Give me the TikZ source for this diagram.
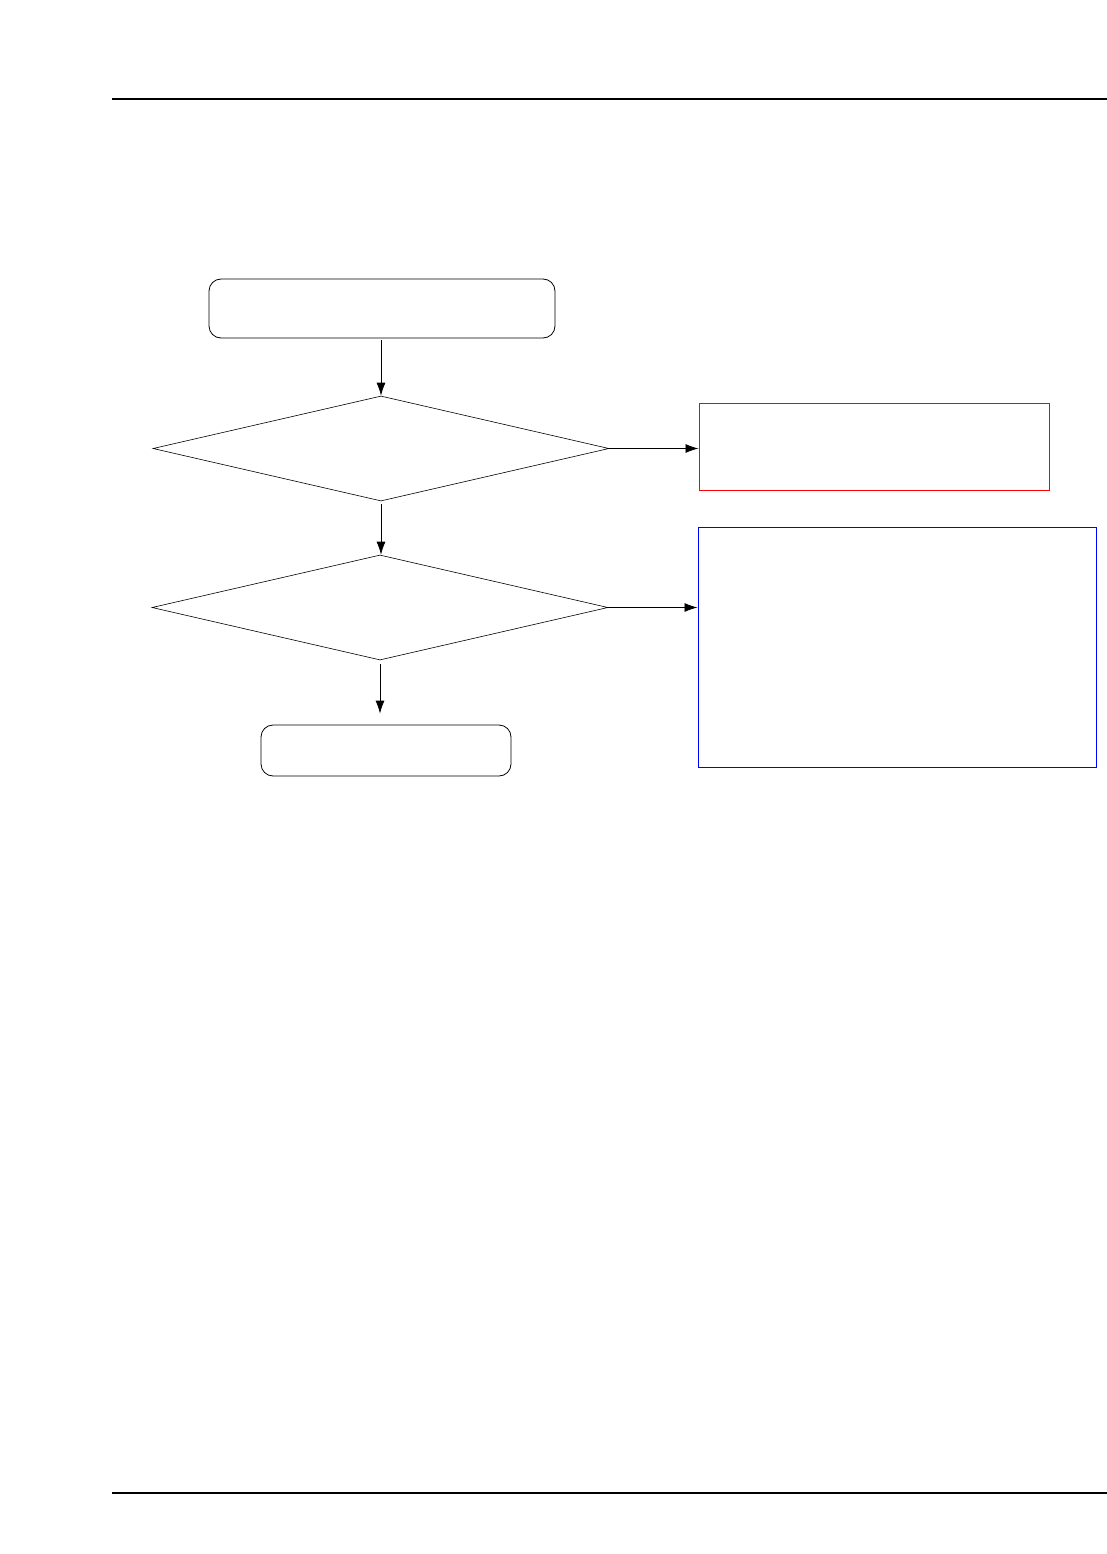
\documentclass[tikz,border=0pt]{standalone}
\usepackage{tikz}
\usetikzlibrary{shapes.geometric,arrows.meta,positioning}

\begin{document}
\begin{tikzpicture}[
    x=1pt, y=-1pt,
    term/.style={rectangle, rounded corners=12pt, draw, line width=0.8pt, inner sep=0pt},
    decide/.style={diamond, draw, line width=0.6pt, inner sep=0pt, minimum width=456pt, minimum height=105pt},
    note/.style={rectangle, draw, line width=1pt, inner sep=0pt},
    flow/.style={-{Latex[length=13pt, width=9pt]}, line width=0.8pt},
    rule/.style={line width=1.5pt}
]
\useasboundingbox (0,0) rectangle (1107,1554);

% page rules
\coordinate (topl) at (112,99);
\coordinate (topr) at (1107,99);
\coordinate (botl) at (112,1493);
\coordinate (botr) at (1107,1493);
\draw[rule] (topl) -- (topr);
\draw[rule] (botl) -- (botr);

\node[term, minimum width=346pt, minimum height=59pt] (start) at (382,308.5) {};
\node[decide] (q1) at (381,448.5) {};
\node[decide] (q2) at (380,607.5) {};
\node[term, minimum width=250pt, minimum height=51pt] (stop) at (386,750.5) {};

\node[note, draw=red, minimum width=350pt, minimum height=87pt] (fix1) at (874,446.5) {};
\node[note, draw=blue, minimum width=398pt, minimum height=240pt] (fix2) at (897,647) {};

\draw[flow] (start.south -| q1.north) ++(0,2) -- (q1.north);
\draw[flow] ([yshift=-3pt]q1.south) -- (q1.south |- q2.north);
\draw[flow] ([yshift=-4pt]q2.south) -- ([yshift=11pt]stop.north -| q2.south);
\draw[flow] (q1.east) -- (q1.east -| fix1.west);
\draw[flow] (q2.east) -- (q2.east -| fix2.west);

\end{tikzpicture}
\end{document}
